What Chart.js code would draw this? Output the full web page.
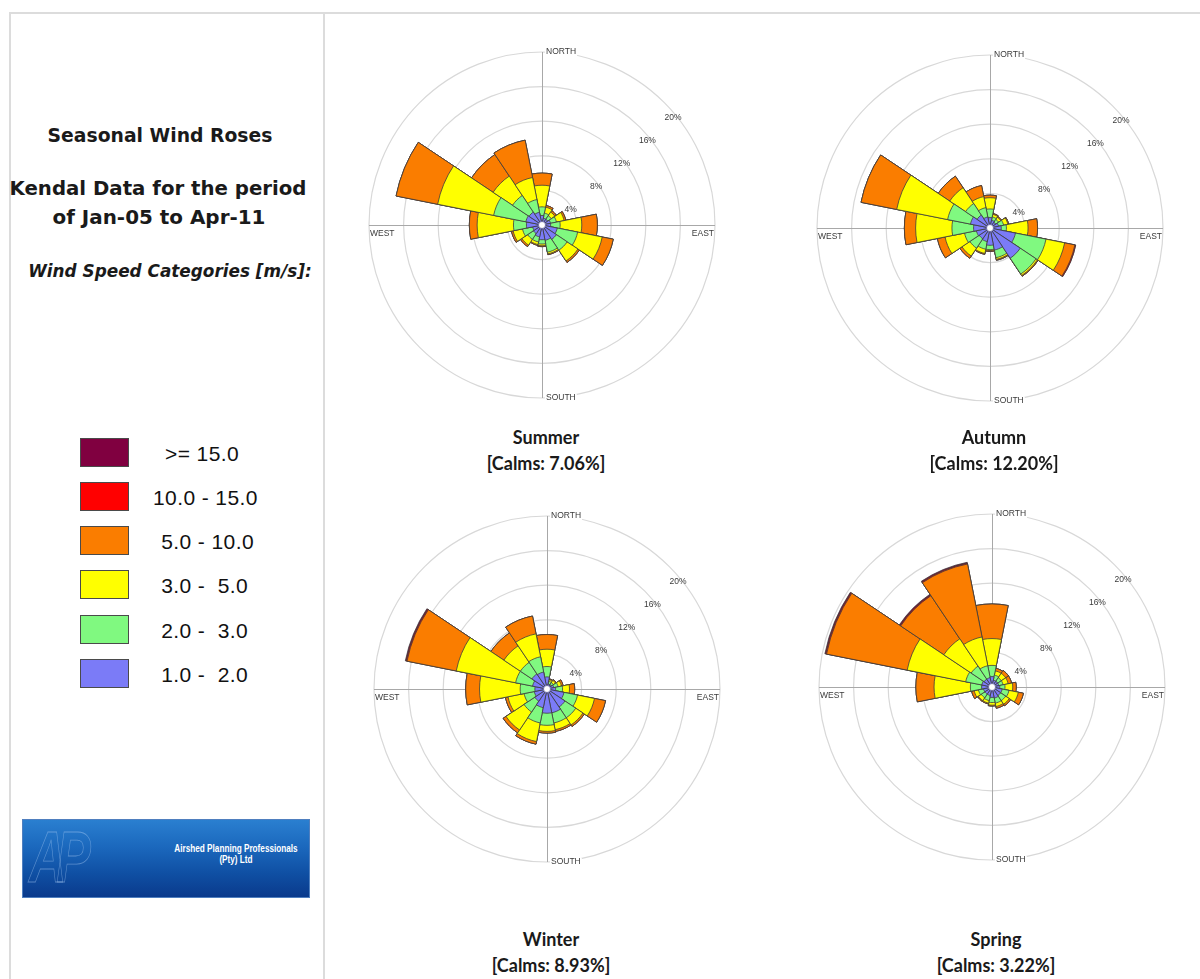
<!DOCTYPE html>
<html><head><meta charset="utf-8">
<script src="https://cdn.jsdelivr.net/npm/chart.js@4.4.1/dist/chart.umd.min.js"></script>
<style>
html,body{margin:0;padding:0;background:#fff;}
body{width:1200px;height:979px;overflow:hidden;position:relative;font-family:'Liberation Sans',Arial,sans-serif;}
.ln{position:absolute;background:#dcdcdc;}
.t{position:absolute;white-space:pre;color:#1a1a1a;transform:translate(-50%,-50%);line-height:1;}
.lt{position:absolute;white-space:pre;color:#111;transform:translateY(-50%);line-height:1;font-family:'Liberation Sans',Arial,sans-serif;font-size:21px;letter-spacing:0.4px;}
.box{position:absolute;width:49px;height:29px;border:1px solid #4a4a4a;box-sizing:border-box;}
canvas{position:absolute;}
.ttl{font-family:'Lato','Open Sans',sans-serif;font-weight:bold;font-size:18px;}
.lft{font-family:'DejaVu Sans',sans-serif;font-weight:bold;}
#logo{position:absolute;left:22px;top:819px;width:288px;height:79px;box-sizing:border-box;border:1px solid #4f7fbf;
 background:linear-gradient(to bottom,#2a7fd0 0%,#1b68bd 35%,#0f4fa3 70%,#0a3a8c 100%);overflow:hidden;}
#logo .ap{position:absolute;left:6px;top:-4px;font:italic bold 72px 'Liberation Sans',Arial,sans-serif;color:transparent;-webkit-text-stroke:0.8px rgba(170,205,245,0.45);letter-spacing:-14px;transform:scaleX(0.72);transform-origin:left top;}
#logo .nm{position:absolute;left:78px;width:270px;top:23px;text-align:center;color:#fff;font:bold 10.5px 'Liberation Sans',Arial,sans-serif;line-height:11px;white-space:nowrap;transform:scaleX(0.78);transform-origin:center top;}
</style></head>
<body>
<div class="ln" style="left:9px;top:12px;width:1191px;height:2px;"></div>
<div class="ln" style="left:9px;top:12px;width:2px;height:967px;"></div>
<div class="ln" style="left:323px;top:12px;width:2px;height:967px;"></div>

<div class="t lft" data-w="225" style="left:160px;top:136px;font-size:17px;">Seasonal Wind Roses</div>
<div class="t lft" data-w="297" style="left:158px;top:189px;font-size:17px;">Kendal Data for the period</div>
<div class="t lft" data-w="213" style="left:159px;top:218px;font-size:17px;">of Jan-05 to Apr-11</div>
<div class="t lft" data-w="284" style="left:170px;top:271px;font-size:15px;font-style:italic;">Wind Speed Categories [m/s]:</div>

<div id="legend"></div>

<div id="logo"><div class="ap">AP</div><div class="nm">Airshed Planning Professionals<br>(Pty) Ltd</div></div>

<canvas id="c0" width="400" height="400" style="left:342px;top:25px;"></canvas>
<canvas id="c1" width="400" height="400" style="left:790px;top:28px;"></canvas>
<canvas id="c2" width="400" height="400" style="left:347px;top:489px;"></canvas>
<canvas id="c3" width="400" height="400" style="left:792px;top:487px;"></canvas>
<div id="titles"></div>

<script>
// ---------- categories / labels ----------
const directions = ['N','NNE','NE','ENE','E','ESE','SE','SSE','S','SSW','SW','WSW','W','WNW','NW','NNW'];
const speedCategories = ['1.0 - 2.0','2.0 - 3.0','3.0 - 5.0','5.0 - 10.0','10.0 - 15.0','>= 15.0'];
const legendLabels = ['>= 15.0','10.0 - 15.0',' 5.0 - 10.0',' 3.0 -  5.0',' 2.0 -  3.0',' 1.0 -  2.0'];
const categoryColors = ['#7b7bf7','#80f980','#ffff00','#fa7d00','#ff0000','#800040'];
const radialTickLabels = ['4%','8%','12%','16%','20%'];
const radialTickValues = [4,8,12,16,20];
const compassLabels = ['NORTH','EAST','SOUTH','WEST'];
const seasonNames = ['Summer','Autumn','Winter','Spring'];
const calmsPct = ['7.06','12.20','8.93','3.22'];

// ---------- frequencies (%) per direction N..NNW, per speed class ----------
// Summer
const summer_1_2   = [1.1,0.8,0.8,1.0,1.0,1.8,2.0,1.8,1.7,1.4,1.2,1.1,1.8,1.9,1.8,1.5];
const summer_2_3   = [1.0,0.6,0.5,0.7,1.1,2.4,1.5,1.4,0.5,0.6,0.8,1.2,1.5,3.8,2.3,1.5];
const summer_3_5   = [2.5,0.7,0.5,0.9,2.5,2.9,1.5,0.2,0.2,0.3,0.8,1.1,4.2,6.6,2.7,2.6];
const summer_5_10  = [1.4,0.2,0.2,0.2,1.8,1.3,0.2,0.1,0.1,0.1,0.2,0.2,0.9,4.9,3.0,4.4];
const summer_10_15 = [0,0,0,0,0,0,0,0,0,0,0,0,0,0,0,0];
const summer_15    = [0,0,0,0,0,0,0,0,0,0,0,0,0,0,0,0];
// Autumn
const autumn_1_2   = [1.2,0.9,0.8,1.0,1.3,3.0,4.2,2.6,2.0,1.6,1.5,1.6,1.9,2.3,1.8,1.3];
const autumn_2_3   = [1.0,0.4,0.4,0.6,0.6,3.6,2.2,0.9,0.5,0.9,1.3,1.4,2.5,2.7,1.6,1.1];
const autumn_3_5   = [1.3,0.3,0.3,0.5,2.5,2.2,0.2,0.2,0.1,0.5,1.1,2.3,4.2,6.0,2.2,1.3];
const autumn_5_10  = [0.3,0.1,0.1,0.1,1.1,1.2,0.1,0.1,0.1,0.1,0.3,0.9,1.3,4.2,1.6,1.3];
const autumn_10_15 = [0,0,0,0,0,0.1,0,0,0,0,0,0,0,0,0,0];
const autumn_15    = [0,0,0,0,0,0,0,0,0,0,0,0,0,0,0,0];
// Winter
const winter_1_2   = [1.4,0.6,0.6,0.8,1.0,2.0,2.5,2.8,2.8,2.2,1.7,1.5,1.4,1.7,2.1,2.0];
const winter_2_3   = [1.2,0.3,0.3,0.5,0.8,1.6,1.5,1.2,1.4,1.8,1.5,1.2,1.7,2.0,1.6,1.8];
const winter_3_5   = [2.0,0.2,0.3,0.4,0.8,2.0,1.0,0.8,0.7,2.2,2.5,1.9,4.7,7.0,2.3,2.7];
const winter_5_10  = [1.7,0.1,0.1,0.2,0.6,1.3,0.2,0.2,0.2,0.3,0.4,0.3,1.6,5.8,1.8,2.1];
const winter_10_15 = [0,0,0,0,0,0,0,0,0,0,0,0,0,0.1,0,0];
const winter_15    = [0,0,0,0,0,0,0,0,0,0,0,0,0,0.1,0,0];
// Spring
const spring_1_2   = [1.2,0.8,0.8,0.8,0.9,1.2,1.2,1.3,1.2,1.0,1.0,1.0,1.2,1.2,1.1,1.1];
const spring_2_3   = [1.3,0.6,0.5,0.5,0.6,0.8,0.7,0.6,0.6,0.6,0.5,0.6,1.3,1.9,1.8,1.4];
const spring_3_5   = [3.1,0.5,0.6,0.6,0.9,1.1,0.5,0.4,0.3,0.3,0.4,0.5,4.2,6.9,3.8,3.4];
const spring_5_10  = [4.0,0.3,0.4,0.4,0.4,0.6,0.2,0.2,0.1,0.1,0.1,0.3,2.1,9.5,6.0,8.6];
const spring_10_15 = [0,0,0,0,0,0,0,0,0,0,0,0,0,0.1,0.1,0.1];
const spring_15    = [0,0,0,0,0,0,0,0,0,0,0,0,0,0.1,0.1,0.1];

const seasonsData = [
  [summer_1_2,summer_2_3,summer_3_5,summer_5_10,summer_10_15,summer_15],
  [autumn_1_2,autumn_2_3,autumn_3_5,autumn_5_10,autumn_10_15,autumn_15],
  [winter_1_2,winter_2_3,winter_3_5,winter_5_10,winter_10_15,winter_15],
  [spring_1_2,spring_2_3,spring_3_5,spring_5_10,spring_10_15,spring_15]
];

// ---------- legend (HTML) ----------
const legendTop = [453,497,541,585,630,674];
const legendTextLeft = [165,153,155,155,155,155];
const lg = document.getElementById('legend');
legendLabels.forEach((lab,i)=>{
  const col = categoryColors[5-i];
  const b = document.createElement('div'); b.className='box';
  b.style.left='80px'; b.style.top=(legendTop[i]-15)+'px'; b.style.background=col; lg.appendChild(b);
  const t = document.createElement('div'); t.className='lt'; t.textContent=lab;
  t.style.left=legendTextLeft[i]+'px'; t.style.top=legendTop[i]+'px'; lg.appendChild(t);
});

// ---------- titles ----------
const roseCenters = [[542,225],[990,228],[547,689],[992,687]];
const titleY = [[437,463],[437,463],[939,965],[939,965]];
const tt = document.getElementById('titles');
seasonNames.forEach((n,i)=>{
  const a=document.createElement('div'); a.className='t ttl'; a.textContent=n;
  a.style.left=(roseCenters[i][0]+4)+'px'; a.style.top=titleY[i][0]+'px'; tt.appendChild(a);
  const b=document.createElement('div'); b.className='t ttl'; b.textContent='[Calms: '+calmsPct[i]+'%]';
  b.style.left=(roseCenters[i][0]+4)+'px'; b.style.top=titleY[i][1]+'px'; tt.appendChild(b);
});

// fit left-panel text widths
document.querySelectorAll('[data-w]').forEach(el=>{
  const target=+el.dataset.w; let fs=parseFloat(el.style.fontSize);
  const w=el.getBoundingClientRect().width; el.style.fontSize=(fs*target/w).toFixed(2)+'px';
});

// ---------- rose decorations plugin ----------
const roseDecor = {
  id:'roseDecor',
  beforeDatasetsDraw(chart){
    const s=chart.scales.r, ctx=chart.ctx, cx=s.xCenter, cy=s.yCenter, R=s.drawingArea;
    ctx.save(); ctx.strokeStyle='#a8a8a8'; ctx.lineWidth=1;
    ctx.beginPath();
    ctx.moveTo(cx-R,cy+0.5); ctx.lineTo(cx+R,cy+0.5);
    ctx.moveTo(cx+0.5,cy-R); ctx.lineTo(cx+0.5,cy+R);
    ctx.stroke(); ctx.restore();
  },
  afterDatasetsDraw(chart){
    const s=chart.scales.r, ctx=chart.ctx, cx=s.xCenter, cy=s.yCenter, R=s.drawingArea;
    ctx.save();
    ctx.fillStyle='#fff'; ctx.strokeStyle='#5a5aa0'; ctx.lineWidth=0.7;
    ctx.beginPath(); ctx.arc(cx,cy,3.5,0,Math.PI*2); ctx.fill(); ctx.stroke();
    ctx.font='8.5px "Liberation Sans", Arial, sans-serif';
    ctx.textBaseline='middle';
    // compass labels
    ctx.textAlign='left';
    ctx.fillStyle='#fff';
    ctx.fillRect(cx+3,cy-R-4,ctx.measureText(compassLabels[0]).width+2,8);
    ctx.fillRect(cx+3,cy+R-4,ctx.measureText(compassLabels[2]).width+2,8);
    ctx.fillStyle='#3a3a3a';
    ctx.fillText(compassLabels[0],cx+4,cy-R);
    ctx.fillText(compassLabels[2],cx+4,cy+R);
    ctx.fillText(compassLabels[3],cx-R+1,cy+9);
    ctx.textAlign='right';
    ctx.fillText(compassLabels[1],cx+R-1,cy+9);
    // radial percentage labels
    ctx.textAlign='center';
    radialTickValues.forEach((v,i)=>{
      const d=s.getDistanceFromCenterForValue(v);
      ctx.fillText(radialTickLabels[i],cx+d*0.74+3,cy-d*0.66+7);
    });
    ctx.restore();
  }
};

function makeRose(id, comps){
  let run=new Array(directions.length).fill(0);
  const datasets=comps.map((arr,k)=>{
    run=run.map((v,i)=>Math.round((v+arr[i])*100)/100);
    return {label:speedCategories[k],data:run.slice(),backgroundColor:categoryColors[k],borderColor:'#3d3d3d',borderWidth:0.8};
  });
  new Chart(document.getElementById(id),{
    type:'polarArea',
    data:{labels:directions,datasets},
    options:{
      responsive:false,animation:false,layout:{padding:27},
      plugins:{legend:{display:false},tooltip:{enabled:false}},
      scales:{r:{min:0,max:20,startAngle:-11.25,
        ticks:{display:false,stepSize:4},
        grid:{circular:true,color:'#d8d8d8',lineWidth:1.2},
        angleLines:{display:false},pointLabels:{display:false}}}
    },
    plugins:[roseDecor]
  });
}
seasonsData.forEach((comps,i)=>makeRose('c'+i,comps));
</script>
</body></html>
